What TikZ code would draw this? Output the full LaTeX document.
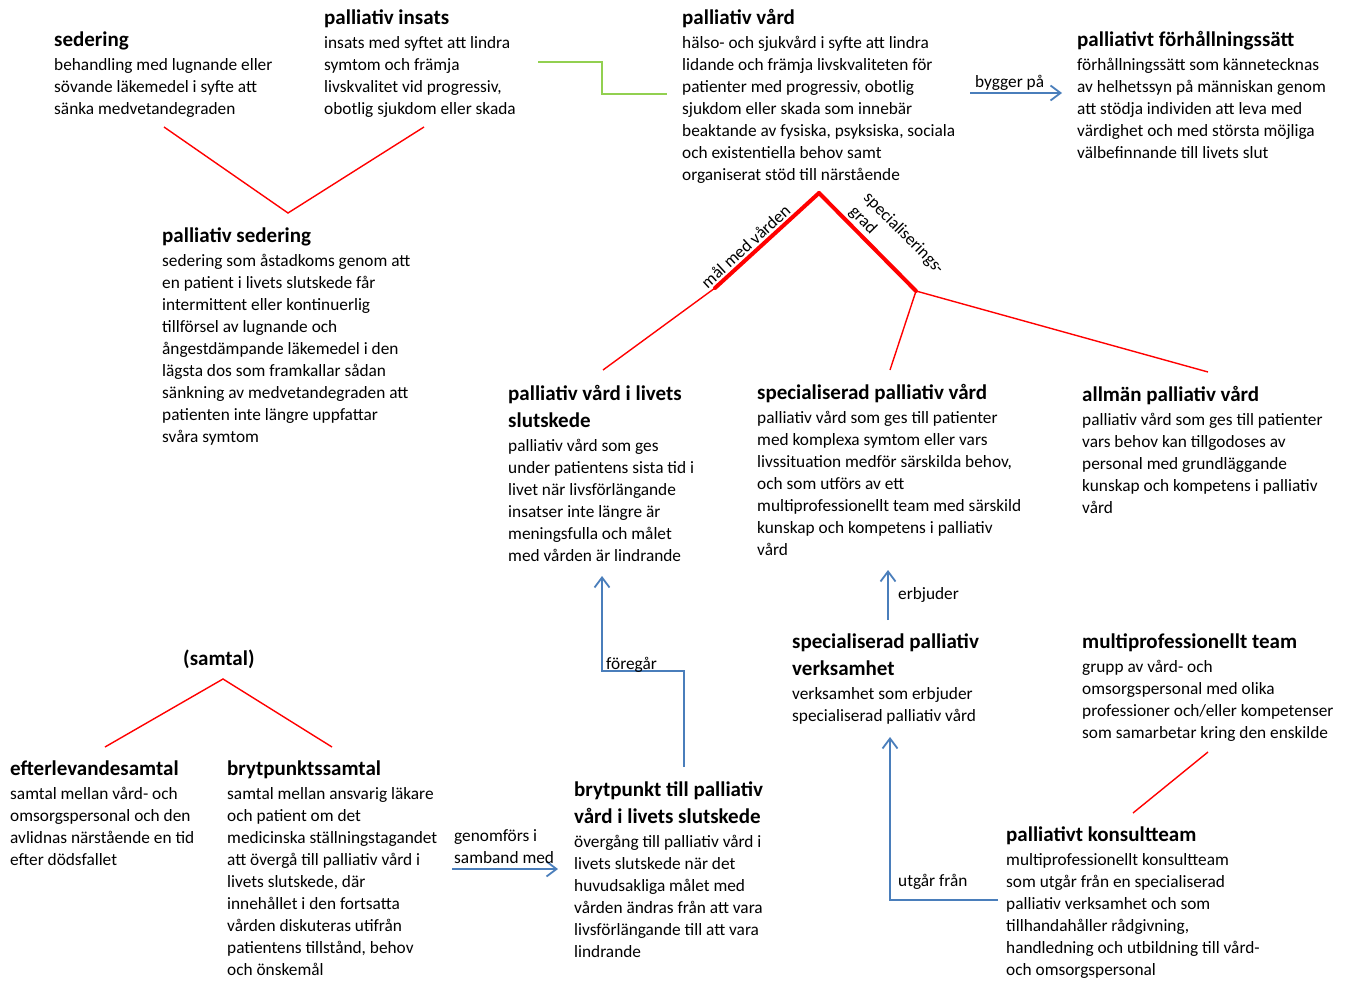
\documentclass[tikz,border=0pt]{standalone}
\usepackage{fontspec}
\setmainfont{Carlito}
\usetikzlibrary{arrows.meta}
\definecolor{lnblue}{HTML}{4A7EBB}
\definecolor{lngreen}{HTML}{92D050}
\newcommand\ttl[1]{{\fontsize{21}{24}\selectfont\bfseries #1}}
\begin{document}
\begin{tikzpicture}[x=1pt,y=-1pt,
  concept/.style={anchor=north west, align=left, inner sep=0pt, font=\fontsize{17.3}{22}\selectfont},
  lbl/.style={anchor=base west, align=left, inner sep=0pt, font=\fontsize{17.3}{22}\selectfont},
  redln/.style={draw=red, line width=1.4pt},
  redthick/.style={draw=red, line width=4pt, line cap=round},
  greenln/.style={draw=lngreen, line width=1.5pt},
  blueln/.style={draw=lnblue, line width=1.8pt, -{Straight Barb[length=10pt,width=15pt,line width=1.8pt]}}
]
\useasboundingbox (0,0) rectangle (1346,981);

% concepts (top = title baseline - 15)
\node[concept] (sed) at (54,32) {\ttl{sedering}\\[2pt]behandling med lugnande eller\\sövande läkemedel i syfte att\\sänka medvetandegraden};
\node[concept] (insats) at (324,10) {\ttl{palliativ insats}\\[2pt]insats med syftet att lindra\\symtom och främja\\livskvalitet vid progressiv,\\obotlig sjukdom eller skada};
\node[concept] (pv) at (682,9) {\ttl{palliativ vård}\\[2pt]hälso- och sjukvård i syfte att lindra\\lidande och främja livskvaliteten för\\patienter med progressiv, obotlig\\sjukdom eller skada som innebär\\beaktande av fysiska, psyksiska, sociala\\och existentiella behov samt\\organiserat stöd till närstående};
\node[concept] (forh) at (1077,31) {\ttl{palliativt förhållningssätt}\\[2pt]förhållningssätt som kännetecknas\\av helhetssyn på människan genom\\att stödja individen att leva med\\värdighet och med största möjliga\\välbefinnande till livets slut};
\node[concept] (psed) at (162,228) {\ttl{palliativ sedering}\\[2pt]sedering som åstadkoms genom att\\en patient i livets slutskede får\\intermittent eller kontinuerlig\\tillförsel av lugnande och\\ångestdämpande läkemedel i den\\lägsta dos som framkallar sådan\\sänkning av medvetandegraden att\\patienten inte längre uppfattar\\svåra symtom};
\node[concept] (slut) at (508,385) {\ttl{palliativ vård i livets}\\[5pt]\ttl{slutskede}\\[2pt]palliativ vård som ges\\under patientens sista tid i\\livet när livsförlängande\\insatser inte längre är\\meningsfulla och målet\\med vården är lindrande};
\node[concept] (spec) at (757,384) {\ttl{specialiserad palliativ vård}\\[2pt]palliativ vård som ges till patienter\\med komplexa symtom eller vars\\livssituation medför särskilda behov,\\och som utförs av ett\\multiprofessionellt team med särskild\\kunskap och kompetens i palliativ\\vård};
\node[concept] (allm) at (1082,386) {\ttl{allmän palliativ vård}\\[2pt]palliativ vård som ges till patienter\\vars behov kan tillgodoses av\\personal med grundläggande\\kunskap och kompetens i palliativ\\vård};
\node[concept] (verks) at (792,634) {\ttl{specialiserad palliativ}\\[5pt]\ttl{verksamhet}\\[2pt]verksamhet som erbjuder\\specialiserad palliativ vård};
\node[concept] (team) at (1082,634) {\ttl{multiprofessionellt team}\\[2pt]grupp av vård- och\\omsorgspersonal med olika\\professioner och/eller kompetenser\\som samarbetar kring den enskilde};
\node[concept] (samtal) at (183,650) {\ttl{(samtal)}};
\node[concept] (efter) at (10,761) {\ttl{efterlevandesamtal}\\[2pt]samtal mellan vård- och\\omsorgspersonal och den\\avlidnas närstående en tid\\efter dödsfallet};
\node[concept] (bryt) at (227,761) {\ttl{brytpunktssamtal}\\[2pt]samtal mellan ansvarig läkare\\och patient om det\\medicinska ställningstagandet\\att övergå till palliativ vård i\\livets slutskede, där\\innehållet i den fortsatta\\vården diskuteras utifrån\\patientens tillstånd, behov\\och önskemål};
\node[concept] (brytp) at (574,782) {\ttl{brytpunkt till palliativ}\\[5pt]\ttl{vård i livets slutskede}\\[2pt]övergång till palliativ vård i\\livets slutskede när det\\huvudsakliga målet med\\vården ändras från att vara\\livsförlängande till att vara\\lindrande};
\node[concept] (konsult) at (1006,827) {\ttl{palliativt konsultteam}\\[2pt]multiprofessionellt konsultteam\\som utgår från en specialiserad\\palliativ verksamhet och som\\tillhandahåller rådgivning,\\handledning och utbildning till vård-\\och omsorgspersonal};

% coordinates
\coordinate (sedA) at (164,127);
\coordinate (sedV) at (288,213);
\coordinate (sedB) at (424,127);
\coordinate (g1) at (538,62);
\coordinate (g2) at (667,94);
\coordinate (top) at (819,193);
\coordinate (jL) at (715,288);
\coordinate (jR) at (916,291);
\coordinate (slutT) at (603,370);
\coordinate (specT) at (890,370);
\coordinate (allmT) at (1208,372);
\coordinate (samV) at (223,679);
\coordinate (samL) at (105,747);
\coordinate (samR) at (332,747);
\coordinate (teamB) at (1208,752);
\coordinate (konsT) at (1133,813);
\coordinate (byS) at (970,93);
\coordinate (byE) at (1062,93);
\coordinate (geS) at (452,869);
\coordinate (geE) at (558,869);
\coordinate (foS) at (684,767);
\coordinate (foE) at (602,576);
\coordinate (erS) at (888,620);
\coordinate (erE) at (888,570);
\coordinate (utS) at (998,900);
\coordinate (utE) at (890,737);

% red connectors
\draw[redln] (sedA) -- (sedV) -- (sedB);
\draw[redln] (slutT) -- (jL);
\draw[redthick] (jL) -- node[sloped, above, pos=0.36, inner sep=2pt, font=\fontsize{17.3}{22}\selectfont] (lmal) {mål med vården} (top);
\draw[redthick] (top) -- node[sloped, above, pos=0.64, inner sep=2pt, align=left, font=\fontsize{17.3}{20}\selectfont] (lspec) {specialiserings-\\grad} (jR);
\draw[redln] (jR) -- (specT);
\draw[redln] (jR) -- (allmT);
\draw[redln] (samL) -- (samV) -- (samR);
\draw[redln] (teamB) -- (konsT);

% green
\draw[greenln] (g1) -- (602,62) -- (602,94) -- (g2);

% blue arrows
\draw[blueln] (byS) -- (byE);
\node[lbl] (lby) at (975,88) {bygger på};
\draw[blueln] (geS) -- (geE);
\node[lbl, anchor=north west] (lge) at (454,829) {genomförs i\\samband med};
\draw[blueln] (foS) -- (684,671) -- (602,671) -- (foE);
\node[lbl] (lfo) at (606,669) {föregår};
\draw[blueln] (erS) -- (erE);
\node[lbl] (ler) at (898,599) {erbjuder};
\draw[blueln] (utS) -- (890,900) -- (utE);
\node[lbl] (lut) at (898,886) {utgår från};
\end{tikzpicture}
\end{document}
